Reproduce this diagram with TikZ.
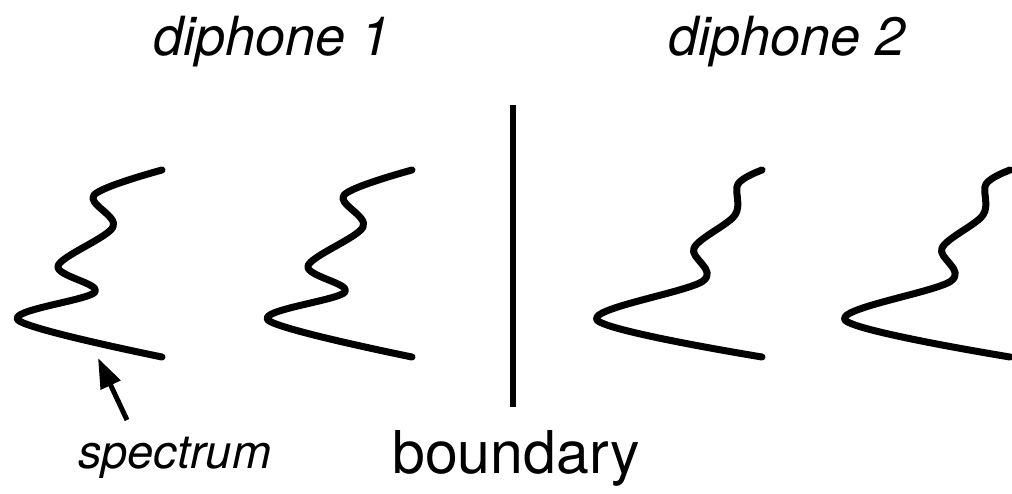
\documentclass[tikz,border=0pt]{standalone}
\usepackage{fontspec}
\setmainfont{TeX Gyre Heros}
\usetikzlibrary{arrows.meta}

\begin{document}
\begin{tikzpicture}[x=1pt, y=-1pt,
    spec/.style={line width=7pt, line cap=round, line join=round},
    head/.style={font=\fontsize{54}{60}\selectfont\itshape, anchor=base west, inner sep=0pt}]
	\useasboundingbox (0,0) rectangle (1012,493);
	
	% Headings
	\node[head] (dph1) at (153,55) {diphone 1};
	\node[head] (dph2) at (668,55) {diphone 2};
	
	% Spectra of diphone 1
	\foreach \dx in {0,250}
	\draw[spec, xshift=\dx pt] plot[smooth, tension=0.55] coordinates
		{(162,170) (94,195) (113,227) (58,266) (95,292) (18,320) (162,357)};
	
	% Spectra of diphone 2
	\foreach \dx in {0,248}
	\draw[spec, xshift=\dx pt] plot[smooth, tension=0.55] coordinates
		{(762,170) (738,184) (735,215) (694,248) (703,281) (597,320) (762,357)};
	
	% Boundary
	\coordinate (bndtop) at (513,105);
	\coordinate (bndbot) at (513,407);
	\draw[line width=6pt] (bndtop) -- (bndbot);
	\node[font=\fontsize{59}{64}\selectfont, anchor=base west, inner sep=0pt] (bnd) at (392,473) {boundary};
	
	% Spectrum label and arrow
	\node[font=\fontsize{47}{52}\selectfont\itshape, anchor=base west, inner sep=0pt] (spc) at (78,468) {spectrum};
	\coordinate (arrtail) at (127,420);
	\coordinate (arrtip) at (98,358);
	\draw[line width=5pt, -{Triangle[length=30pt, width=21pt]}] (arrtail) -- (arrtip);
\end{tikzpicture}
\end{document}
